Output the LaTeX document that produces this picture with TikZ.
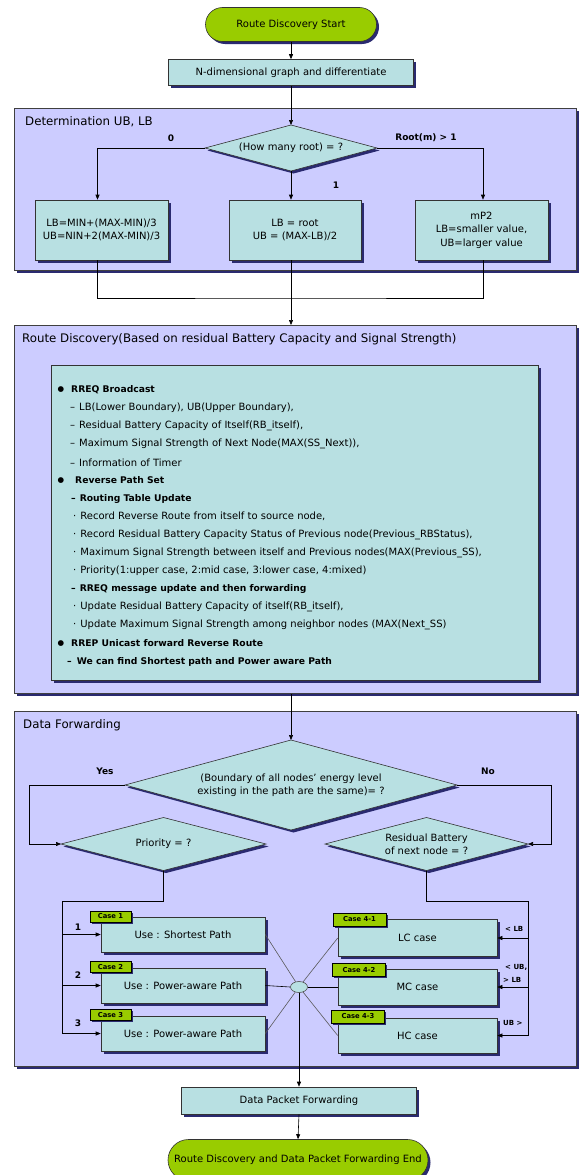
\documentclass[tikz,border=0pt]{standalone}
\usepackage{fontspec}
\setmainfont{DejaVu Sans}
\usetikzlibrary{shapes.geometric,shapes.misc,arrows.meta,shadows,calc}
\definecolor{lav}{HTML}{CCCCFF}
\definecolor{boxc}{HTML}{B8E0E2}
\definecolor{grn}{HTML}{99CC00}
\definecolor{shd}{HTML}{2A2A70}
\tikzset{
  shd/.style={drop shadow={shadow xshift=2.5pt,shadow yshift=-2.5pt,fill=shd,opacity=1}},
  frame/.style={draw=black!75,fill=lav,line width=0.6pt,shd,anchor=north west,inner sep=0pt},
  box/.style={draw=black!80,fill=boxc,line width=0.6pt,shd,inner sep=0pt,align=center,font=\fontsize{10}{13.5}\selectfont},
  diafill/.style={fill=boxc,draw=black!80,line width=0.6pt},
  diashd/.style={fill=shd},
  diatext/.style={inner sep=0pt,align=center,font=\fontsize{10}{13}\selectfont},
  term/.style={rounded rectangle,draw=black!80,fill=grn,line width=0.6pt,shd,inner sep=0pt,font=\fontsize{10}{12}\selectfont},
  tag/.style={draw=black,fill=grn,line width=0.6pt,drop shadow={shadow xshift=1.5pt,shadow yshift=-1.5pt,fill=shd,opacity=1},inner sep=0pt,font=\bfseries\fontsize{6.8}{8}\selectfont},
  title/.style={anchor=west,inner sep=0pt,font=\fontsize{11.8}{14}\selectfont},
  lbl/.style={inner sep=0pt,font=\bfseries\fontsize{9}{11}\selectfont},
  slbl/.style={inner sep=0pt,anchor=west,font=\bfseries\fontsize{7}{8}\selectfont},
  tx/.style={anchor=west,inner sep=0pt,font=\fontsize{10}{12}\selectfont},
  btx/.style={anchor=west,inner sep=0pt,font=\bfseries\fontsize{9.2}{12}\selectfont},
  bul/.style={inner sep=0pt,font=\fontsize{7.5}{9}\selectfont},
  arr/.style={-{Triangle[length=5pt,width=4pt]},line width=0.6pt},
  ln/.style={line width=0.6pt},
  gln/.style={line width=0.6pt,draw=black!65}
}
% #1 name, #2 cx, #3 cy, #4 half width, #5 half height, #6 text
\newcommand{\mkdia}[6]{%
  \path (#2,#3) coordinate (#1) +(-#4,0) coordinate (#1-w) +(#4,0) coordinate (#1-e)
        +(0,-#5) coordinate (#1-n) +(0,#5) coordinate (#1-s);
  \fill[diashd] ([shift={(2.5,2.5)}]#1-n) -- ([shift={(2.5,2.5)}]#1-e) -- ([shift={(2.5,2.5)}]#1-s) -- ([shift={(2.5,2.5)}]#1-w) -- cycle;
  \filldraw[diafill] (#1-n) -- (#1-e) -- (#1-s) -- (#1-w) -- cycle;
  \node[diatext] (#1-t) at (#1) {#6};
}
\begin{document}
\begin{tikzpicture}[x=1pt,y=-1pt]
\useasboundingbox (0,0) rectangle (581,1175);
% frames
\node[frame,minimum width=562pt,minimum height=162pt] (fdet) at (14,108) {};
\node[frame,minimum width=562pt,minimum height=368pt] (frd) at (14,325) {};
\node[frame,minimum width=562pt,minimum height=355pt] (fdf) at (14,711) {};
\node[title] (tdet) at (25,122) {Determination UB, LB};
\node[title] (trd) at (22,339) {Route Discovery(Based on residual Battery Capacity and Signal Strength)};
\node[title] (tdf) at (23,725) {Data Forwarding};

% top
\node[term,minimum width=171pt,minimum height=34pt] (start) at (291,24.5) {Route Discovery Start};
\node[box,minimum width=245pt,minimum height=26pt] (nd) at (291,72.5) {N-dimensional graph and differentiate};
\draw[arr] (start.south) -- (nd.north);

% determination
\mkdia{d1}{291}{148}{86}{23}{(How many root) = ?}
\draw[arr] (nd.south) -- (d1-n);
\node[box,minimum width=133pt,minimum height=60pt] (b1) at (101.5,230) {LB=MIN+(MAX-MIN)/3\\UB=NIN+2(MAX-MIN)/3};
\node[box,minimum width=132pt,minimum height=60pt] (b2) at (295,230) {LB = root\\UB = (MAX-LB)/2};
\node[box,minimum width=133pt,minimum height=60pt] (b3) at (481.5,230) {mP2\\LB=smaller value,\\UB=larger value};
\node[lbl] (l0) at (171,138) {0};
\node[lbl] (lr) at (426,138) {Root(m) > 1};
\node[lbl] (l1) at (336,185) {1};
\draw[arr] (d1-w) -| ([xshift=-4pt]b1.north);
\draw[arr] (d1-e) -| ([xshift=1.5pt]b3.north);
\draw[arr] (d1-s) -- (d1-s |- b2.north);
\coordinate (jn) at (291,298);
\draw[ln] ([xshift=-4pt]b1.south) |- (jn) -| ([xshift=1.5pt]b3.south);
\draw[arr] (b2.south -| jn) -- (jn |- frd.north);

% route discovery inner box
\node[box,anchor=north west,minimum width=487pt,minimum height=315pt] (ib) at (51,365) {};
\node[bul] (k0) at (61,390) {●};
\node[btx] (t0) at (71,390) {RREQ Broadcast};
\node[tx] (t1) at (70,408.1) {–\hspace{4pt}LB(Lower Boundary), UB(Upper Boundary),};
\node[tx] (t2) at (70,426.2) {–\hspace{4pt}Residual Battery Capacity of Itself(RB\_itself),};
\node[tx] (t3) at (70,444.3) {–\hspace{4pt}Maximum Signal Strength of Next Node(MAX(SS\_Next)),};
\node[tx] (t4) at (70,462.4) {–\hspace{4pt}Information of Timer};
\node[bul] (k5) at (61,480.5) {●};
\node[btx] (t5) at (75,480.5) {Reverse Path Set};
\node[btx] (t6) at (71,498.6) {–\hspace{4pt}Routing Table Update};
\node[tx] (t7) at (73,516.7) {·\hspace{4pt}Record Reverse Route from itself to source node,};
\node[tx] (t8) at (73,534.8) {·\hspace{4pt}Record Residual Battery Capacity Status of Previous node(Previous\_RBStatus),};
\node[tx] (t9) at (73,552.9) {·\hspace{4pt}Maximum Signal Strength between itself and Previous nodes(MAX(Previous\_SS),};
\node[tx] (t10) at (73,571) {·\hspace{4pt}Priority(1:upper case, 2:mid case, 3:lower case, 4:mixed)};
\node[btx] (t11) at (71,589.1) {–\hspace{4pt}RREQ message update and then forwarding};
\node[tx] (t12) at (73,607.2) {·\hspace{4pt}Update Residual Battery Capacity of itself(RB\_itself),};
\node[tx] (t13) at (73,625.3) {·\hspace{4pt}Update Maximum Signal Strength among neighbor nodes (MAX(Next\_SS)};
\node[bul] (k14) at (61,643.4) {●};
\node[btx] (t14) at (71,643.4) {RREP Unicast forward Reverse Route};
\node[btx] (t15) at (67,661.5) {–\hspace{5pt}We can find Shortest path and Power aware Path};

% data forwarding
\mkdia{D2}{291}{785}{166}{45}{(Boundary of all nodes' energy level\\existing in the path are the same)= ?}
\draw[arr] (D2-n |- frd.south) -- (D2-n);
\mkdia{Dp}{163.5}{844}{102.5}{26.5}{Priority = ?}
\mkdia{Dr}{426.5}{844}{101.5}{26.5}{Residual Battery\\of next node = ?}
\node[lbl] (yes) at (105,771) {Yes};
\node[lbl] (no) at (488,771) {No};
\coordinate (yl) at (29,785);
\coordinate (nl) at (551,785);
\draw[arr] (D2-w) -- (yl) |- (Dp-w);
\draw[arr] (D2-e) -- (nl) |- (Dr-e);

\node[box,minimum width=164pt,minimum height=35pt] (u1) at (183,934.5) {Use : Shortest Path};
\node[box,minimum width=164pt,minimum height=35pt] (u2) at (183,985.5) {Use : Power-aware Path};
\node[box,minimum width=164pt,minimum height=35pt] (u3) at (183,1033.5) {Use : Power-aware Path};
\node[tag,minimum width=41pt,minimum height=11pt] (c1) at (110.5,916.5) {Case 1};
\node[tag,minimum width=41pt,minimum height=11pt] (c2) at (110.5,967) {Case 2};
\node[tag,minimum width=41pt,minimum height=11pt] (c3) at (110.5,1015) {Case 3};
\node[lbl] (n1) at (78,927) {1};
\node[lbl] (n2) at (78,975) {2};
\node[lbl] (n3) at (78,1023) {3};

\node[box,minimum width=159pt,minimum height=37pt] (r1) at (417.5,938) {LC case};
\node[box,minimum width=159pt,minimum height=36pt] (r2) at (417.5,987) {MC case};
\node[box,minimum width=159pt,minimum height=35pt] (r3) at (417.5,1035.5) {HC case};
\node[tag,minimum width=53pt,minimum height=13pt] (c41) at (359.5,919.5) {Case 4-1};
\node[tag,minimum width=53pt,minimum height=13pt] (c42) at (359,970) {Case 4-2};
\node[tag,minimum width=53pt,minimum height=13pt] (c43) at (358,1016.5) {Case 4-3};
\node[slbl] (s1) at (505,929) {< LB};
\node[slbl] (s2) at (505,967) {< UB,};
\node[slbl] (s3) at (503,980) {> LB};
\node[slbl] (s4) at (503,1023) {UB >};

\coordinate (lb) at (62,901);
\draw[ln] (Dp-s) |- (lb);
\draw[arr] (lb) |- (u3.west);
\draw[arr] (lb |- u1.west) -- (u1.west);
\draw[arr] (lb |- u2.west) -- (u2.west);
\coordinate (rb) at (528,901);
\draw[ln] (Dr-s) |- (rb);
\draw[arr] (rb) |- (r3.east);
\draw[arr] (rb |- r1.east) -- (r1.east);
\draw[arr] (rb |- r2.east) -- (r2.east);

\node[ellipse,draw=black!70,fill=boxc,line width=0.6pt,minimum width=17pt,minimum height=11pt,inner sep=0pt] (e) at (299,987) {};
\draw[gln] (u1.east) -- (e);
\draw[ln] (u2.east) -- (e.west);
\draw[gln] (u3.east) -- (e);
\draw[gln] (r1.west) -- (e);
\draw[ln] (r2.west) -- (e.east);
\draw[gln] (r3.west) -- (e);

\node[box,minimum width=235pt,minimum height=27pt] (dpf) at (299,1100.5) {Data Packet Forwarding};
\draw[arr] (e.south) -- (dpf.north);
\node[term,minimum width=260pt,minimum height=41pt] (end) at (298,1160) {Route Discovery and Data Packet Forwarding End};
\draw[arr] (dpf.south) -- (end.north);
\end{tikzpicture}
\end{document}
